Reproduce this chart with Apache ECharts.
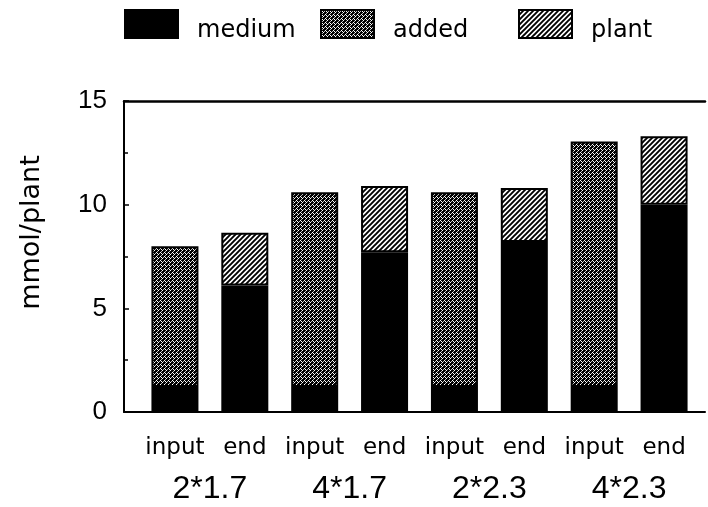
<!DOCTYPE html>
<html>
<head>
<meta charset="utf-8">
<script src="https://cdn.jsdelivr.net/npm/echarts@6/dist/echarts.min.js"></script>
<style>
  html, body { margin: 0; padding: 0; background: #fff; }
  #chart { width: 708px; height: 507px; }
</style>
</head>
<body>
<div id="chart"></div>
<script>
// Bars, left to right: input/end for each treatment
const conditions = ['input', 'end', 'input', 'end', 'input', 'end', 'input', 'end'];
const treatments = ['2*1.7', '4*1.7', '2*2.3', '4*2.3'];
// mmol per plant, stacked bottom to top: medium, added, plant
const medium = [1.2, 6.1, 1.2, 7.7, 1.2, 8.2, 1.2, 10.0];
const added  = [6.8, null, 9.4, null, 9.4, null, 11.85, null];
const plant  = [null, 2.55, null, 3.2, null, 2.6, null, 3.3];
const yMin = 0, yMax = 15, yStep = 5;

const FONT = 'DejaVu Sans';
const NUM_FONT = 'Liberation Sans';

// dotted fill: black ground with a diagonal lattice of light dots
function dotPattern() {
  const c = document.createElement('canvas');
  c.width = 4; c.height = 4;
  const g = c.getContext('2d');
  g.fillStyle = '#000';
  g.fillRect(0, 0, 4, 4);
  g.fillStyle = '#fff';
  g.fillRect(0, 0, 1, 1);
  g.fillRect(1, 1, 1, 1);
  g.fillRect(2, 2, 1, 1);
  g.fillStyle = '#bbb';
  g.fillRect(3, 1, 1, 1);
  g.fillRect(1, 3, 1, 1);
  return c;
}

// hatched fill: black lines rising to the right
function hatchPattern() {
  const n = 5;
  const c = document.createElement('canvas');
  c.width = n; c.height = n;
  const g = c.getContext('2d');
  g.fillStyle = '#fff';
  g.fillRect(0, 0, n, n);
  g.strokeStyle = '#000';
  g.lineWidth = 1.9;
  g.beginPath();
  for (let k = -1; k <= 1; k++) {
    g.moveTo(k * n - 1, n + 1);
    g.lineTo(k * n + n + 1, -1);
  }
  g.stroke();
  return c;
}

const dotFill = { image: dotPattern(), repeat: 'repeat' };
const hatchFill = { image: hatchPattern(), repeat: 'repeat' };

const chart = echarts.init(document.getElementById('chart'), null, { renderer: 'canvas' });

// legend labels sit low beside their swatches
const legendBase = {
  top: 9,
  padding: 0,
  itemWidth: 53,
  itemHeight: 28,
  icon: 'rect',
  formatter: name => '{t|' + name + '}',
  textStyle: {
    rich: {
      t: { fontFamily: FONT, fontSize: 24, color: '#000', padding: [13, 0, 0, 14] }
    }
  },
  selectedMode: false
};

chart.setOption({
  animation: false,
  backgroundColor: '#fff',
  legend: [
    Object.assign({}, legendBase, { left: 124, data: ['medium'] }),
    Object.assign({}, legendBase, { left: 320, data: ['added'] }),
    Object.assign({}, legendBase, { left: 518, data: ['plant'] })
  ],
  grid: [
    // bar area
    { left: 140, right: 9, top: 101, bottom: 95 },
    // frame with the value axis
    { left: 124, right: 3, top: 101, bottom: 95 }
  ],
  xAxis: [
    {
      type: 'category', gridIndex: 0, data: conditions,
      axisLine: { show: false }, axisTick: { show: false }, splitLine: { show: false },
      axisLabel: { fontFamily: FONT, fontSize: 23, color: '#000', margin: 25, interval: 0 }
    },
    {
      // treatment names centred under each input/end pair
      type: 'value', gridIndex: 0, min: -0.5, max: conditions.length - 0.5,
      position: 'bottom', offset: 40,
      axisLine: { show: false }, axisTick: { show: false }, splitLine: { show: false },
      axisLabel: {
        customValues: treatments.map((_, k) => 2 * k + 0.5),
        formatter: v => treatments[Math.round((v - 0.5) / 2)],
        fontFamily: NUM_FONT, fontSize: 32, color: '#000', margin: 21
      }
    },
    {
      type: 'value', gridIndex: 1, min: 0, max: 1, position: 'bottom',
      axisLine: { show: true, onZero: false, lineStyle: { color: '#000', width: 2 } },
      axisTick: { show: false }, axisLabel: { show: false }, splitLine: { show: false }
    },
    {
      type: 'value', gridIndex: 1, min: 0, max: 1, position: 'top',
      axisLine: { show: true, onZero: false, lineStyle: { color: '#000', width: 2.5 } },
      axisTick: { show: false }, axisLabel: { show: false }, splitLine: { show: false }
    }
  ],
  yAxis: [
    {
      type: 'value', gridIndex: 0, min: yMin, max: yMax,
      axisLine: { show: false }, axisTick: { show: false },
      axisLabel: { show: false }, splitLine: { show: false }
    },
    {
      type: 'value', gridIndex: 1, min: yMin, max: yMax, interval: yStep,
      name: 'mmol/plant', nameLocation: 'middle', nameGap: 79,
      nameTextStyle: { fontFamily: FONT, fontSize: 27, color: '#000', padding: [0, 0, 0, 48] },
      axisLine: { show: true, onZero: false, lineStyle: { color: '#000', width: 2 } },
      axisTick: { show: true, inside: true, length: 5, lineStyle: { color: '#000', width: 1.5 } },
      minorTick: { show: true, splitNumber: 2, length: 4, lineStyle: { color: '#000', width: 1.5 } },
      splitLine: { show: false },
      axisLabel: { fontFamily: NUM_FONT, fontSize: 26, color: '#000', margin: 17 }
    }
  ],
  series: [
    {
      name: 'medium', type: 'bar', stack: 'total', barWidth: 47,
      xAxisIndex: 0, yAxisIndex: 0,
      itemStyle: { color: '#000', borderColor: '#000', borderWidth: 2 },
      data: medium
    },
    {
      name: 'added', type: 'bar', stack: 'total', barWidth: 47,
      xAxisIndex: 0, yAxisIndex: 0,
      itemStyle: { color: dotFill, borderColor: '#000', borderWidth: 2 },
      data: added
    },
    {
      name: 'plant', type: 'bar', stack: 'total', barWidth: 47,
      xAxisIndex: 0, yAxisIndex: 0,
      itemStyle: { color: hatchFill, borderColor: '#000', borderWidth: 2 },
      data: plant
    }
  ]
});
</script>
</body>
</html>
